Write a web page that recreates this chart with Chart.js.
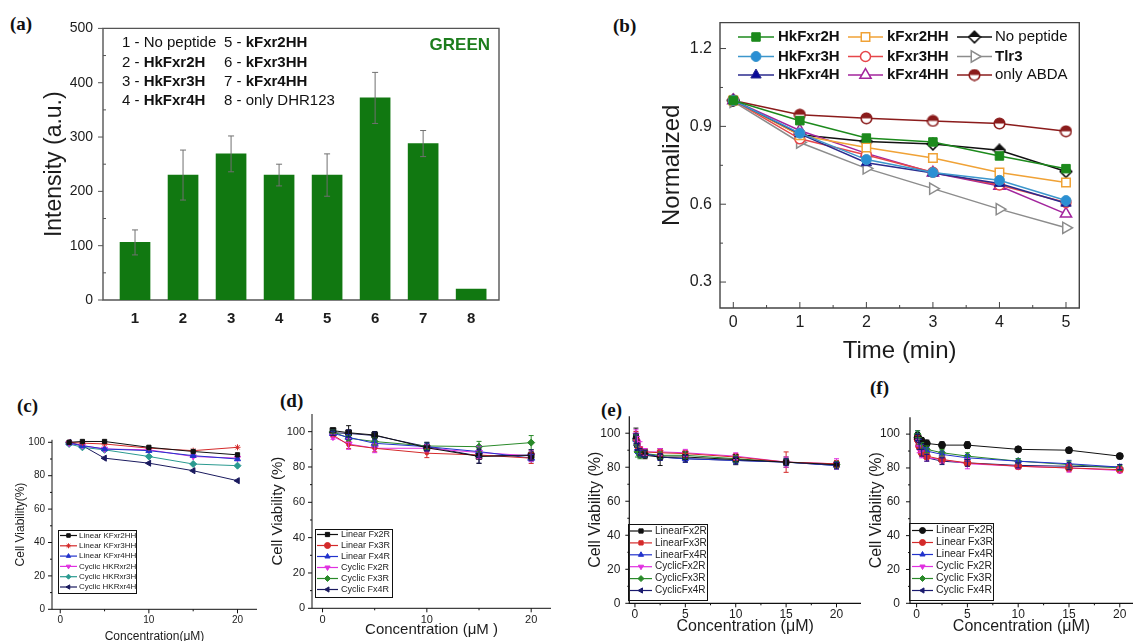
<!DOCTYPE html>
<html>
<head>
<meta charset="utf-8">
<title>Peptide antioxidant activity and cell viability</title>
<script src="https://cdn.jsdelivr.net/npm/chart.js@4.4.1/dist/chart.umd.min.js"></script>
<style>
  html, body { margin: 0; padding: 0; background: #fff; }
  body { position: relative; width: 1138px; height: 641px; overflow: hidden; }
  canvas { position: absolute; }
  .panel-tag { position: absolute; font: bold 19px "Liberation Serif", "Times New Roman", serif; color: #111; line-height: 19px; }
</style>
</head>
<body>
<div class="panel-tag" style="left:10px;top:14px">(a)</div>
<div class="panel-tag" style="left:613px;top:16px">(b)</div>
<div class="panel-tag" style="left:17px;top:396px">(c)</div>
<div class="panel-tag" style="left:280px;top:391px">(d)</div>
<div class="panel-tag" style="left:601px;top:400px">(e)</div>
<div class="panel-tag" style="left:870px;top:378px">(f)</div>

<canvas id="chartA"></canvas>
<canvas id="chartB"></canvas>
<canvas id="chartC"></canvas>
<canvas id="chartD"></canvas>
<canvas id="chartE"></canvas>
<canvas id="chartF"></canvas>

<script>
// ---------- (a) DHR123 fluorescence ----------
const barPositions = [1, 2, 3, 4, 5, 6, 7, 8];
const barNames = ['No peptide', 'HkFxr2H', 'HkFxr3H', 'HkFxr4H', 'kFxr2HH', 'kFxr3HH', 'kFxr4HH', 'only DHR123'];
const barIntensity = [106, 230, 269, 230, 230, 372, 288, 20];
const barError = [23, 46, 33, 20, 39, 47, 24, 0];
const intensityTicks = [0, 100, 200, 300, 400, 500];

// ---------- (b) ABDA bleaching ----------
const timeMin = [0, 1, 2, 3, 4, 5];
const normHkFxr2H = [1.0, 0.922, 0.855, 0.840, 0.786, 0.737];
const normHkFxr3H = [1.0, 0.874, 0.772, 0.722, 0.692, 0.614];
const normHkFxr4H = [1.0, 0.871, 0.760, 0.720, 0.680, 0.604];
const normKFxr2HH = [1.0, 0.866, 0.819, 0.778, 0.722, 0.684];
const normKFxr3HH = [1.0, 0.852, 0.790, 0.723, 0.674, 0.607];
const normKFxr4HH = [1.0, 0.884, 0.796, 0.721, 0.670, 0.563];
const normNoPeptide = [1.0, 0.868, 0.842, 0.832, 0.808, 0.726];
const normTlr3 = [0.995, 0.838, 0.738, 0.660, 0.581, 0.509];
const normOnlyABDA = [1.0, 0.945, 0.931, 0.921, 0.911, 0.881];
const normalizedTicks = [0.3, 0.6, 0.9, 1.2];
const controlNames = ['No peptide', 'only DHR123', 'only ABDA'];

// ---------- (c) cell viability ----------
const concC = [1, 2.5, 5, 10, 15, 20];
const cLinKFxr2HH = [100, 100.5, 100.5, 97, 94.5, 92.5];
const cLinKFxr3HH = [100, 99.5, 99, 96.5, 95, 97];
const cLinKFxr4HH = [99.5, 98, 96, 95, 92, 90];
const cCycHKRxr2H = [99.5, 98, 96, 95.5, 91.5, 90.5];
const cCycHKRxr3H = [99, 97, 95.5, 91.5, 87, 86];
const cCycHKRxr4H = [100, 98, 90.5, 87.5, 83, 77];

// ---------- (d) cell viability ----------
const concD = [1, 2.5, 5, 10, 15, 20];
const dLinFx2R = [100.6, 99.4, 98.1, 90.9, 86, 86.5];
const dLinFx3R = [98.1, 92.5, 90.6, 87.8, 86.8, 85];
const dLinFx4R = [99, 96.8, 93.4, 91.5, 88.7, 85];
const dCycFx2R = [97.2, 93, 90.6, 90.6, 88.2, 86.3];
const dCycFx3R = [100, 96.3, 94.4, 91.9, 91.5, 93.8];
const dCycFx4R = [99.4, 99, 97.8, 91.5, 86.2, 86.8];
const dErrLinFx2R = [1.5, 4, 2, 2, 4, 2];
const dErrLinFx3R = [1, 2, 2, 2.5, 2, 3];
const dErrLinFx4R = [1, 1.5, 2, 2, 3, 2];
const dErrCycFx2R = [1.5, 3, 2.5, 2, 3.5, 3];
const dErrCycFx3R = [1, 1.5, 2, 2, 3, 4];
const dErrCycFx4R = [1.5, 2, 2, 2.5, 4, 3];

// ---------- (e) cell viability ----------
const concE = [0.1, 0.25, 0.5, 1, 2.5, 5, 10, 15, 20];
const eLinFx2R = [98, 93, 88, 87, 86, 86, 84.5, 83, 81.5];
const eLinFx3R = [97, 94, 90, 89, 88.5, 88, 86, 83, 82];
const eLinFx4R = [96, 91, 88, 88, 86, 85, 84, 83, 81];
const eCycFx2R = [99, 95, 91, 89, 89, 88.5, 86.5, 83, 82];
const eCycFx3R = [96, 89, 87, 88, 87, 87, 85, 83, 81.5];
const eCycFx4R = [97, 92, 89, 88, 86, 85, 84, 83, 81];
const eErrLinFx2R = [5, 3, 2, 2, 5, 3, 3, 3, 2];
const eErrLinFx3R = [4, 3, 2, 2, 2, 2, 2, 6, 2];
const eErrLinFx4R = [3, 3, 2, 2, 2, 2, 2, 2, 2];
const eErrCycFx2R = [3, 3, 4, 2, 2, 2, 2, 3, 3];
const eErrCycFx3R = [3, 3, 2, 2, 2, 2, 2, 2, 2];
const eErrCycFx4R = [3, 2, 2, 2, 2, 2, 2, 2, 2];

// ---------- (f) cell viability ----------
const concF = [0.1, 0.25, 0.5, 1, 2.5, 5, 10, 15, 20];
const fLinFx2R = [98, 97, 96, 94.5, 93.5, 93.5, 91, 90.5, 87];
const fLinFx3R = [97, 93, 89, 87, 85, 83, 81, 80, 79];
const fLinFx4R = [99, 95, 92, 90, 88, 86, 84, 82.5, 80.5];
const fCycFx2R = [95, 91, 88, 86, 85, 82.5, 81, 80, 78.5];
const fCycFx3R = [100, 96, 93, 91, 89, 87, 84, 82, 80];
const fCycFx4R = [98, 93, 89, 86, 84, 83, 81.5, 81, 80.5];
const fErrLinFx2R = [3, 2, 2, 2, 2, 2, 1.5, 1.5, 1.5];
const fErrLinFx3R = [2, 2, 2, 2, 2, 2, 1.5, 2, 1.5];
const fErrLinFx4R = [3, 2, 2, 2, 2, 2, 1.5, 2, 1.5];
const fErrCycFx2R = [2, 2, 2, 2, 2, 3, 1.5, 2.5, 1.5];
const fErrCycFx3R = [2, 2, 2, 2, 2, 2, 1.5, 2, 1.5];
const fErrCycFx4R = [2, 2, 2, 2, 2, 2, 1.5, 2, 1.5];

const viabilityTicks = [0, 20, 40, 60, 80, 100];
const viabilityMinor = [10, 30, 50, 70, 90];

// ---------- drawing helpers ----------
const FONT = '"Liberation Sans", Arial, Helvetica, sans-serif';
const INK = '#1c1c1c';

function axisPainter(cfg) {
  return {
    id: 'axisPainter',
    beforeDatasetsDraw(chart) {
      const { ctx, chartArea: a, scales: { x, y } } = chart;
      ctx.save();
      ctx.strokeStyle = cfg.color;
      ctx.lineWidth = cfg.width;
      ctx.beginPath();
      if (cfg.box) {
        ctx.rect(a.left, a.top, a.right - a.left, a.bottom - a.top);
      } else {
        ctx.moveTo(a.left, a.top);
        ctx.lineTo(a.left, a.bottom);
        ctx.lineTo(a.right, a.bottom);
      }
      ctx.stroke();
      ctx.lineWidth = cfg.tickWidth || 1;
      // positive length points away from the plot, negative into it
      const marks = (vals, len, horizontal) => {
        if (!vals) return;
        ctx.beginPath();
        vals.forEach(v => {
          if (horizontal) {
            const px = x.getPixelForValue(v);
            ctx.moveTo(px, a.bottom);
            ctx.lineTo(px, a.bottom + len);
          } else {
            const py = y.getPixelForValue(v);
            ctx.moveTo(a.left, py);
            ctx.lineTo(a.left - len, py);
          }
        });
        ctx.stroke();
      };
      marks(cfg.xMajor, cfg.xMajorLen, true);
      marks(cfg.xMinor, cfg.xMinorLen, true);
      marks(cfg.yMajor, cfg.yMajorLen, false);
      marks(cfg.yMinor, cfg.yMinorLen, false);
      ctx.restore();
    }
  };
}

const errorBars = {
  id: 'errorBars',
  afterDatasetsDraw(chart) {
    const { ctx, scales: { y } } = chart;
    chart.data.datasets.forEach((ds, i) => {
      if (!ds.errors) return;
      const meta = chart.getDatasetMeta(i);
      ctx.save();
      ctx.strokeStyle = ds.errorColor || ds.borderColor;
      ctx.lineWidth = ds.errorWidth || 1;
      const cap = ds.errorCap || 3;
      meta.data.forEach((el, j) => {
        const e = ds.errors[j];
        if (!e) return;
        const v = ds.data[j].y;
        const top = y.getPixelForValue(v + e), bot = y.getPixelForValue(v - e);
        ctx.beginPath();
        ctx.moveTo(el.x, top); ctx.lineTo(el.x, bot);
        ctx.moveTo(el.x - cap, top); ctx.lineTo(el.x + cap, top);
        ctx.moveTo(el.x - cap, bot); ctx.lineTo(el.x + cap, bot);
        ctx.stroke();
      });
      ctx.restore();
    });
  }
};

function sampleMarker(ctx, ds, x, y, radius) {
  ctx.fillStyle = ds.pointBackgroundColor;
  ctx.strokeStyle = ds.pointBorderColor || ds.borderColor;
  ctx.lineWidth = ds.pointBorderWidth || 1;
  Chart.helpers.drawPoint(ctx, {
    pointStyle: ds.pointStyle, radius: radius, rotation: ds.pointRotation || 0,
    borderWidth: ds.pointBorderWidth || 1
  }, x, y);
}

// Boxed legend used by the viability panels
function boxLegend(cfg, origin) {
  return {
    id: 'boxLegend',
    afterDraw(chart) {
      const ctx = chart.ctx, ox = origin.l, oy = origin.t;
      ctx.save();
      ctx.strokeStyle = '#111';
      ctx.lineWidth = 1;
      ctx.strokeRect(cfg.box[0] - ox + 0.5, cfg.box[1] - oy + 0.5, cfg.box[2] - cfg.box[0], cfg.box[3] - cfg.box[1]);
      chart.data.datasets.forEach((ds, i) => {
        const y = cfg.firstRow + i * cfg.rowH - oy;
        ctx.strokeStyle = ds.borderColor;
        ctx.lineWidth = 1.2;
        ctx.beginPath();
        ctx.moveTo(cfg.line[0] - ox, y);
        ctx.lineTo(cfg.line[1] - ox, y);
        ctx.stroke();
        sampleMarker(ctx, ds, (cfg.line[0] + cfg.line[1]) / 2 - ox, y, cfg.radius);
        ctx.fillStyle = cfg.textColor || '#222';
        ctx.font = cfg.font;
        ctx.textBaseline = 'middle';
        ctx.fillText(ds.label, cfg.text - ox, y);
      });
      ctx.restore();
    }
  };
}

// 3 x 3 legend inside panel (b)
function gridLegend(cfg, origin) {
  return {
    id: 'gridLegend',
    afterDraw(chart) {
      const ctx = chart.ctx, ox = origin.l, oy = origin.t;
      ctx.save();
      chart.data.datasets.forEach((ds, i) => {
        const col = Math.floor(i / 3), row = i % 3;
        const y = cfg.rows[row] - oy;
        const [x0, x1] = cfg.lines[col];
        ctx.strokeStyle = ds.borderColor;
        ctx.lineWidth = ds.borderWidth;
        ctx.beginPath();
        ctx.moveTo(x0 - ox, y);
        ctx.lineTo(x1 - ox, y);
        ctx.stroke();
        sampleMarker(ctx, ds, (x0 + x1) / 2 - ox, y, ds.pointRadius);
        ctx.fillStyle = '#111';
        ctx.font = (controlNames.includes(ds.label) ? '' : 'bold ') + cfg.size + 'px ' + FONT;
        ctx.textBaseline = 'middle';
        ctx.fillText(ds.label, cfg.texts[col] - ox, y);
      });
      ctx.restore();
    }
  };
}

// Numbered sample key and dye name inside panel (a)
function barKey(cfg, origin) {
  return {
    id: 'barKey',
    afterDraw(chart) {
      const ctx = chart.ctx, ox = origin.l, oy = origin.t;
      ctx.save();
      ctx.textBaseline = 'middle';
      ctx.fillStyle = '#111';
      barNames.forEach((name, i) => {
        const col = i < 4 ? 0 : 1, row = i % 4;
        let x = cfg.cols[col] - ox;
        const y = cfg.rows[row] - oy;
        const prefix = barPositions[i] + ' - ';
        ctx.font = cfg.size + 'px ' + FONT;
        ctx.fillText(prefix, x, y);
        x += ctx.measureText(prefix).width;
        ctx.font = (controlNames.includes(name) ? '' : 'bold ') + cfg.size + 'px ' + FONT;
        ctx.fillText(name, x, y);
      });
      ctx.font = 'bold 17px ' + FONT;
      ctx.fillStyle = '#1d7d1d';
      ctx.textAlign = 'right';
      ctx.fillText('GREEN', cfg.tagRight - ox, cfg.tagY - oy);
      ctx.restore();
    }
  };
}

function halfMarker(shape, color, size) {
  const c = document.createElement('canvas');
  c.width = c.height = size;
  const g = c.getContext('2d');
  const m = size / 2, r = size / 2 - 1.2;
  const path = () => {
    g.beginPath();
    if (shape === 'circle') g.arc(m, m, r, 0, Math.PI * 2);
    else { g.moveTo(m, m - r); g.lineTo(m + r, m); g.lineTo(m, m + r); g.lineTo(m - r, m); g.closePath(); }
  };
  path(); g.fillStyle = '#fff'; g.fill();
  g.save(); path(); g.clip(); g.fillStyle = color; g.fillRect(0, 0, size, m); g.restore();
  path(); g.strokeStyle = color; g.lineWidth = 1.6; g.stroke();
  return c;
}

function series(label, xs, ys, look, errs) {
  return {
    label,
    data: xs.map((x, i) => ({ x, y: ys[i] })),
    errors: errs,
    errorCap: look.cap || 2.5,
    borderColor: look.color,
    backgroundColor: look.color,
    pointBackgroundColor: look.fill || look.color,
    pointBorderColor: look.color,
    pointStyle: look.shape,
    pointRotation: look.rot || 0,
    pointRadius: look.r,
    pointBorderWidth: look.bw || 1,
    borderWidth: look.lw || 1,
    tension: 0,
    clip: false
  };
}

function makePanel(id, cb, pb, s) {
  const el = document.getElementById(id);
  el.width = cb.r - cb.l;
  el.height = cb.b - cb.t;
  el.style.left = cb.l + 'px';
  el.style.top = cb.t + 'px';
  const xAxisH = cb.b - pb.b, yAxisW = pb.l - cb.l;
  const fmt = s.fmt || (v => String(v));
  return new Chart(el, {
    type: s.type,
    data: { datasets: s.datasets },
    options: {
      responsive: false, animation: false, devicePixelRatio: 1, events: [],
      layout: { padding: { left: 0, top: pb.t - cb.t, right: cb.r - pb.r, bottom: 0 } },
      plugins: { legend: { display: false }, tooltip: { enabled: false } },
      scales: {
        x: {
          type: 'linear', min: s.x.min, max: s.x.max, offset: false,
          grid: { display: false, drawTicks: false }, border: { display: false },
          ticks: { autoSkip: false, maxRotation: 0, padding: s.x.pad, color: INK, font: s.x.font, callback: v => String(v) },
          title: { display: true, text: s.x.title, color: INK, font: s.x.titleFont, padding: { top: 0, bottom: s.x.titlePad } },
          afterBuildTicks: sc => { sc.ticks = s.x.ticks.map(v => ({ value: v })); },
          afterFit: sc => { sc.height = xAxisH; }
        },
        y: {
          type: 'linear', min: s.y.min, max: s.y.max,
          grid: { display: false, drawTicks: false }, border: { display: false },
          ticks: { autoSkip: false, padding: s.y.pad, color: INK, font: s.y.font, callback: fmt },
          title: { display: true, text: s.y.title, color: INK, font: s.y.titleFont, padding: { top: s.y.titlePad, bottom: 0 } },
          afterBuildTicks: sc => { sc.ticks = s.y.ticks.map(v => ({ value: v })); },
          afterFit: sc => { sc.width = yAxisW; }
        }
      }
    },
    plugins: [axisPainter(s.axes), errorBars].concat(s.extra || [])
  });
}

// ---------- panel (a) ----------
const boxA = { l: 30, t: 10, r: 510, b: 340 };
makePanel('chartA', boxA, { l: 103, t: 24, r: 499, b: 300 }, {
  type: 'bar',
  datasets: [{
    data: barPositions.map((x, i) => ({ x, y: barIntensity[i] })),
    errors: barError, errorColor: '#707070', errorCap: 3,
    backgroundColor: '#117811', borderColor: '#0c640c', borderWidth: 0,
    barThickness: 30
  }],
  x: { min: 0.333, max: 8.58, ticks: barPositions, pad: 10, font: { family: FONT, size: 15, weight: 'bold' },
       title: '', titleFont: { family: FONT, size: 10 }, titlePad: 0 },
  y: { min: 0, max: 500, ticks: intensityTicks, pad: 10, font: { family: FONT, size: 14 },
       title: 'Intensity (a.u.)', titleFont: { family: FONT, size: 23 }, titlePad: 11 },
  axes: { box: true, color: '#555', width: 1.4, yMajor: intensityTicks, yMajorLen: 5,
          yMinor: [50, 150, 250, 350, 450], yMinorLen: -3 },
  extra: [barKey({ cols: [122, 224], rows: [43, 62.5, 81.5, 100.5], size: 15, tagRight: 490, tagY: 45 }, boxA)]
});

// ---------- panel (b) ----------
const boxB = { l: 650, t: 5, r: 1090, b: 370 };
const halfCircle = halfMarker('circle', '#8b1c1c', 13);
const halfDiamond = halfMarker('diamond', '#111', 14);
makePanel('chartB', boxB, { l: 720, t: 18.7, r: 1079.3, b: 308 }, {
  type: 'line',
  datasets: [
    series('HkFxr2H', timeMin, normHkFxr2H, { color: '#1c8a1c', shape: 'rect', r: 6, lw: 1.5 }),
    series('HkFxr3H', timeMin, normHkFxr3H, { color: '#3c96cc', fill: '#2a8fd4', shape: 'circle', r: 5, lw: 1.5 }),
    series('HkFxr4H', timeMin, normHkFxr4H, { color: '#2b2b8e', fill: '#0a0a98', shape: 'triangle', r: 6, lw: 1.5 }),
    series('kFxr2HH', timeMin, normKFxr2HH, { color: '#f0a236', fill: '#fff', shape: 'rect', r: 6, lw: 1.5, bw: 1.5 }),
    series('kFxr3HH', timeMin, normKFxr3HH, { color: '#e6464a', fill: '#fff', shape: 'circle', r: 5, lw: 1.5, bw: 1.5 }),
    series('kFxr4HH', timeMin, normKFxr4HH, { color: '#a3259d', fill: '#fff', shape: 'triangle', r: 6.5, lw: 1.5, bw: 1.5 }),
    series('No peptide', timeMin, normNoPeptide, { color: '#111', fill: '#fff', shape: halfDiamond, r: 6, lw: 1.5 }),
    series('Tlr3', timeMin, normTlr3, { color: '#8c8c8c', fill: '#fff', shape: 'triangle', rot: 90, r: 6.5, lw: 1.5, bw: 1.5 }),
    series('only ABDA', timeMin, normOnlyABDA, { color: '#8b1c1c', fill: '#fff', shape: halfCircle, r: 6, lw: 1.5 })
  ],
  x: { min: -0.2, max: 5.2, ticks: timeMin, pad: 5, font: { family: FONT, size: 16 },
       title: 'Time (min)', titleFont: { family: FONT, size: 24 }, titlePad: 4 },
  y: { min: 0.2, max: 1.3, ticks: normalizedTicks, pad: 8, font: { family: FONT, size: 16 },
       title: 'Normalized', titleFont: { family: FONT, size: 24 }, titlePad: 8 },
  fmt: v => v.toFixed(1),
  axes: { box: true, color: '#444', width: 1.4,
          xMajor: timeMin, xMajorLen: -6, xMinor: [0.5, 1.5, 2.5, 3.5, 4.5], xMinorLen: -3,
          yMajor: normalizedTicks, yMajorLen: -6, yMinor: [0.45, 0.75, 1.05], yMinorLen: -3 },
  extra: [gridLegend({ rows: [37, 56.5, 75], lines: [[738, 774], [848, 883], [957, 992]], texts: [778, 887, 995], size: 15 }, boxB)]
});

// ---------- panel (c) ----------
const boxC = { l: 8, t: 425, r: 262, b: 645 };
makePanel('chartC', boxC, { l: 52, t: 439.8, r: 258, b: 609.3 }, {
  type: 'line',
  datasets: [
    series('Linear KFxr2HH', concC, cLinKFxr2HH, { color: '#111', shape: 'rect', r: 3 }),
    series('Linear KFxr3HH', concC, cLinKFxr3HH, { color: '#d42a2a', shape: 'star', r: 3 }),
    series('Linear KFxr4HH', concC, cLinKFxr4HH, { color: '#2233cc', shape: 'triangle', r: 3.5 }),
    series('Cyclic HKRxr2H', concC, cCycHKRxr2H, { color: '#e030e0', shape: 'triangle', rot: 180, r: 3.5 }),
    series('Cyclic HKRxr3H', concC, cCycHKRxr3H, { color: '#2a9a90', shape: 'rectRot', r: 3.5 }),
    series('Cyclic HKRxr4H', concC, cCycHKRxr4H, { color: '#1a1a5e', shape: 'triangle', rot: -90, r: 3.5 })
  ],
  x: { min: -0.93, max: 22.2, ticks: [0, 10, 20], pad: 5, font: { family: FONT, size: 10 },
       title: 'Concentration(\u03bcM)', titleFont: { family: FONT, size: 12 }, titlePad: 1 },
  y: { min: 0, max: 101.5, ticks: viabilityTicks, pad: 7, font: { family: FONT, size: 10 },
       title: 'Cell Viability(%)', titleFont: { family: FONT, size: 12 }, titlePad: 5 },
  axes: { box: false, color: '#111', width: 1,
          xMajor: [0, 10, 20], xMajorLen: 4, xMinor: [5, 15], xMinorLen: 2,
          yMajor: viabilityTicks, yMajorLen: 4, yMinor: viabilityMinor, yMinorLen: 2 },
  extra: [boxLegend({ box: [58, 530, 136, 593], firstRow: 535.5, rowH: 10.3, line: [60, 77], text: 79, radius: 2.5,
                      font: '8px ' + FONT }, boxC)]
});

// ---------- panel (d) ----------
const boxD = { l: 265, t: 400, r: 556, b: 645 };
makePanel('chartD', boxD, { l: 312, t: 414, r: 552, b: 608.3 }, {
  type: 'line',
  datasets: [
    series('Linear Fx2R', concD, dLinFx2R, { color: '#111', shape: 'rect', r: 4 }, dErrLinFx2R),
    series('Linear Fx3R', concD, dLinFx3R, { color: '#d42a2a', shape: 'circle', r: 1.8 }, dErrLinFx3R),
    series('Linear Fx4R', concD, dLinFx4R, { color: '#2233cc', shape: 'triangle', r: 4 }, dErrLinFx4R),
    series('Cyclic Fx2R', concD, dCycFx2R, { color: '#e030e0', shape: 'triangle', rot: 180, r: 4 }, dErrCycFx2R),
    series('Cyclic Fx3R', concD, dCycFx3R, { color: '#2a8a2a', shape: 'rectRot', r: 3.5 }, dErrCycFx3R),
    series('Cyclic Fx4R', concD, dCycFx4R, { color: '#1a1a5e', shape: 'triangle', rot: -90, r: 4 }, dErrCycFx4R)
  ],
  x: { min: -1.01, max: 21.9, ticks: [0, 10, 20], pad: 5, font: { family: FONT, size: 11 },
       title: 'Concentration (\u03bcM )', titleFont: { family: FONT, size: 15 }, titlePad: 6 },
  y: { min: 0, max: 110, ticks: viabilityTicks, pad: 7, font: { family: FONT, size: 11 },
       title: 'Cell Viability (%)', titleFont: { family: FONT, size: 15 }, titlePad: 4 },
  axes: { box: false, color: '#111', width: 1,
          xMajor: [0, 10, 20], xMajorLen: 4, xMinor: [5, 15], xMinorLen: 2,
          yMajor: viabilityTicks, yMajorLen: 4, yMinor: viabilityMinor, yMinorLen: 2 },
  extra: [boxLegend({ box: [315, 529, 392, 597], firstRow: 534.5, rowH: 11, line: [317, 338], text: 341, radius: 3,
                      font: '9px ' + FONT }, boxD)]
});

// ---------- panel (e) ----------
const boxE = { l: 580, t: 400, r: 866, b: 645 };
makePanel('chartE', boxE, { l: 629.3, t: 412.7, r: 863, b: 603.3 }, {
  type: 'line',
  datasets: [
    series('LinearFx2R', concE, eLinFx2R, { color: '#111', shape: 'rect', r: 3.5 }, eErrLinFx2R),
    series('LinearFx3R', concE, eLinFx3R, { color: '#d42a2a', shape: 'rect', r: 3.5 }, eErrLinFx3R),
    series('LinearFx4R', concE, eLinFx4R, { color: '#2233cc', shape: 'triangle', r: 3.5 }, eErrLinFx4R),
    series('CyclicFx2R', concE, eCycFx2R, { color: '#e030e0', shape: 'triangle', rot: 180, r: 3.5 }, eErrCycFx2R),
    series('CyclicFx3R', concE, eCycFx3R, { color: '#2a8a2a', shape: 'rectRot', r: 3.5 }, eErrCycFx3R),
    series('CyclicFx4R', concE, eCycFx4R, { color: '#1a1a6e', shape: 'triangle', rot: -90, r: 3.5 }, eErrCycFx4R)
  ],
  x: { min: -0.56, max: 22.43, ticks: [0, 5, 10, 15, 20], pad: 4.5, font: { family: FONT, size: 12 },
       title: 'Concentration (\u03bcM)', titleFont: { family: FONT, size: 16 }, titlePad: 8.5 },
  y: { min: 0, max: 110, ticks: viabilityTicks, pad: 9, font: { family: FONT, size: 12 },
       title: 'Cell Viability (%)', titleFont: { family: FONT, size: 16 }, titlePad: 5.5 },
  axes: { box: false, color: '#111', width: 1.2,
          xMajor: [0, 5, 10, 15, 20], xMajorLen: 4, xMinor: [2.5, 7.5, 12.5, 17.5], xMinorLen: 2,
          yMajor: viabilityTicks, yMajorLen: 4, yMinor: viabilityMinor, yMinorLen: 2 },
  extra: [boxLegend({ box: [628, 524, 707, 600], firstRow: 531, rowH: 11.9, line: [630, 652], text: 655, radius: 3,
                      font: '10px ' + FONT }, boxE)]
});

// ---------- panel (f) ----------
const boxF = { l: 862, t: 400, r: 1138, b: 645 };
makePanel('chartF', boxF, { l: 910, t: 411.6, r: 1136.7, b: 603.3 }, {
  type: 'line',
  datasets: [
    series('Linear Fx2R', concF, fLinFx2R, { color: '#111', shape: 'circle', r: 3.5 }, fErrLinFx2R),
    series('Linear Fx3R', concF, fLinFx3R, { color: '#d42a2a', shape: 'circle', r: 3.5 }, fErrLinFx3R),
    series('Linear Fx4R', concF, fLinFx4R, { color: '#2233cc', shape: 'triangle', r: 3.5 }, fErrLinFx4R),
    series('Cyclic Fx2R', concF, fCycFx2R, { color: '#e030e0', shape: 'triangle', rot: 180, r: 3.5 }, fErrCycFx2R),
    series('Cyclic Fx3R', concF, fCycFx3R, { color: '#2a8a2a', shape: 'rectRot', r: 3.5 }, fErrCycFx3R),
    series('Cyclic Fx4R', concF, fCycFx4R, { color: '#1a1a6e', shape: 'triangle', rot: -90, r: 3.5 }, fErrCycFx4R)
  ],
  x: { min: -0.65, max: 21.3, ticks: [0, 5, 10, 15, 20], pad: 4.5, font: { family: FONT, size: 12 },
       title: 'Concentration (\u03bcM)', titleFont: { family: FONT, size: 16 }, titlePad: 8.5 },
  y: { min: 0, max: 110, ticks: viabilityTicks, pad: 10, font: { family: FONT, size: 12 },
       title: 'Cell Viability (%)', titleFont: { family: FONT, size: 16 }, titlePad: 5 },
  axes: { box: false, color: '#111', width: 1.2,
          xMajor: [0, 5, 10, 15, 20], xMajorLen: 4, xMinor: [2.5, 7.5, 12.5, 17.5], xMinorLen: 2,
          yMajor: viabilityTicks, yMajorLen: 4, yMinor: viabilityMinor, yMinorLen: 2 },
  extra: [boxLegend({ box: [909, 523, 993, 600], firstRow: 530.5, rowH: 12, line: [912, 933], text: 936, radius: 3,
                      font: '10.5px ' + FONT }, boxF)]
});
</script>
</body>
</html>
